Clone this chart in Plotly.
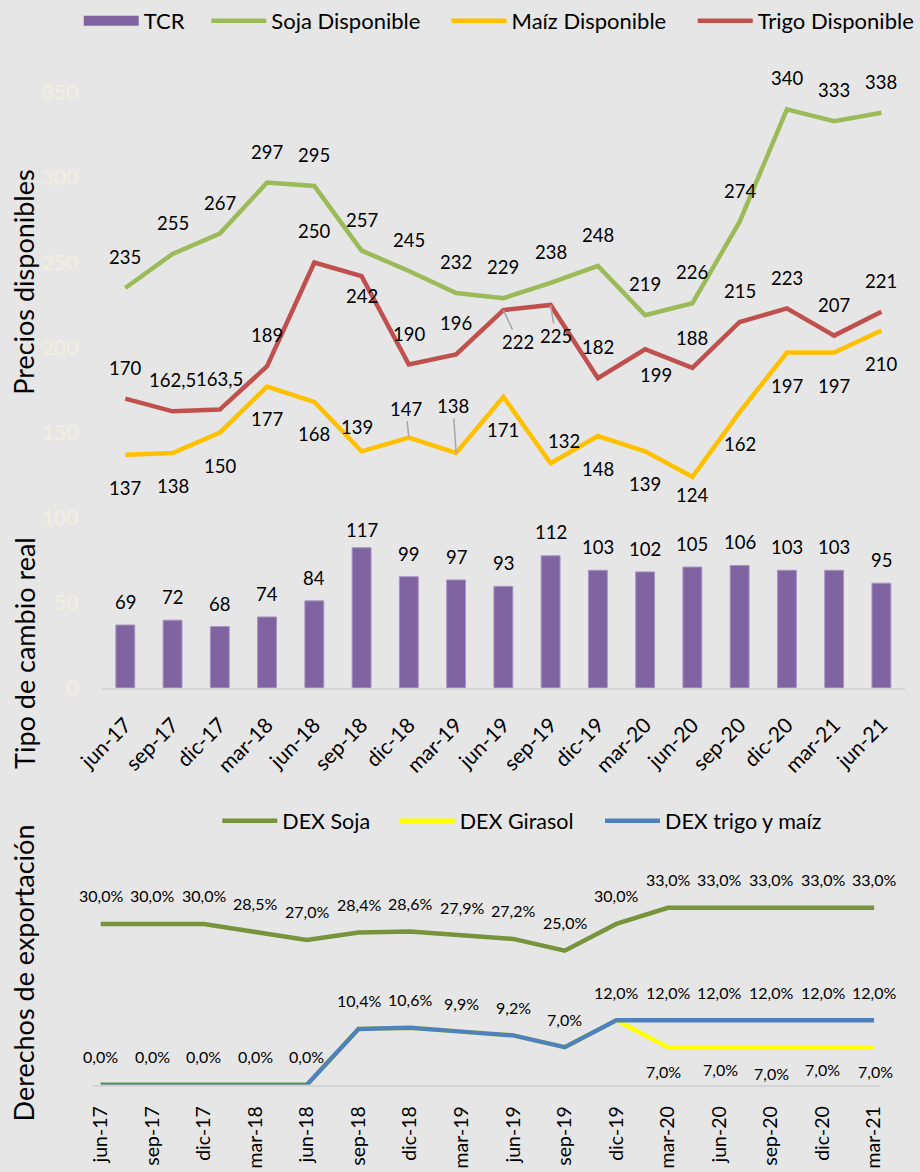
import plotly.graph_objects as go

# ---------------- data ----------------
cats = ['jun-17', 'sep-17', 'dic-17', 'mar-18', 'jun-18', 'sep-18', 'dic-18', 'mar-19', 'jun-19',
        'sep-19', 'dic-19', 'mar-20', 'jun-20', 'sep-20', 'dic-20', 'mar-21', 'jun-21']
tcr = [69, 72, 68, 74, 84, 117, 99, 97, 93, 112, 103, 102, 105, 106, 103, 103, 95]
soja = [235, 255, 267, 297, 295, 257, 245, 232, 229, 238, 248, 219, 226, 274, 340, 333, 338]
maiz = [137, 138, 150, 177, 168, 139, 147, 138, 171, 132, 148, 139, 124, 162, 197, 197, 210]
trigo = [170, 162.5, 163.5, 189, 250, 242, 190, 196, 222, 225, 182, 199, 188, 215, 223, 207, 221]

dex_cats = ['jun-17', 'sep-17', 'dic-17', 'mar-18', 'jun-18', 'sep-18', 'dic-18', 'mar-19',
            'jun-19', 'sep-19', 'dic-19', 'mar-20', 'jun-20', 'sep-20', 'dic-20', 'mar-21']
dex_soja = [30, 30, 30, 28.5, 27, 28.4, 28.6, 27.9, 27.2, 25, 30, 33, 33, 33, 33, 33]
dex_girasol = [0, 0, 0, 0, 0, 10.4, 10.6, 9.9, 9.2, 7, 12, 7, 7, 7, 7, 7]
dex_trigo_maiz = [0, 0, 0, 0, 0, 10.4, 10.6, 9.9, 9.2, 7, 12, 12, 12, 12, 12, 12]

# ---------------- label placement (styles) ----------------
soja_dy = [31] * 17
trigo_dy = [31, 31, 31, 31, 31, -20, 31, 31, -32, -31, 31, -26, 30, 31, 30, 31, 31]
trigo_dx = [0, 0, 0, 0, 0, 0, 0, 0, 15, 5, 0, 11, 0, 0, 0, 0, 0]
maiz_dy = [-33, -33, -33, -32, -32, 24, 29, 47, -33, 22, -33, -33, -18, -32, -33, -33, -33]
maiz_dx = [0, 0, 0, 0, 0, -5, -3, -3, 0, 13, 0, 0, 0, 0, 0, 0, 0]
leader = {('trigo', 8), ('trigo', 9), ('maiz', 6), ('maiz', 7)}
tcr_dy = [23, 23, 23, 23, 23, 18, 23, 23, 23, 24, 23, 23, 23, 23, 23, 23, 23]

FONT = 'Lato'
BG = '#e6e6e6'
C_TCR = '#8064a2'
C_SOJA = '#9bbb59'
C_MAIZ = '#ffc000'
C_TRIGO = '#c0504d'
C_DSOJA = '#77933c'
C_DGIR = '#ffff00'
C_DTM = '#4f81bd'

H = 1172.0
W = 920.0


def fmt(v):
    if float(v).is_integer():
        return str(int(v))
    return ('%g' % v).replace('.', ',')


def pct(v):
    return ('%.1f%%' % v).replace('.', ',')


fig = go.Figure()

fig.add_trace(go.Bar(x=cats, y=tcr, name='TCR', marker=dict(color=C_TCR, line=dict(color='#a694c4', width=1)),
                     yaxis='y2', xaxis='x', showlegend=False, width=0.4))
# legend swatch for the TCR bars (wide rectangle as in the original)
fig.add_trace(go.Scatter(x=[None], y=[None], name='TCR', mode='lines', line=dict(color=C_TCR, width=14),
                         xaxis='x', yaxis='y', legend='legend'))
fig.add_trace(go.Scatter(x=cats, y=soja, name='Soja Disponible', mode='lines',
                         line=dict(color=C_SOJA, width=4.5), xaxis='x', yaxis='y', legend='legend2'))
fig.add_trace(go.Scatter(x=cats, y=maiz, name='Maíz Disponible', mode='lines',
                         line=dict(color=C_MAIZ, width=4.5), xaxis='x', yaxis='y', legend='legend3'))
fig.add_trace(go.Scatter(x=cats, y=trigo, name='Trigo Disponible', mode='lines',
                         line=dict(color=C_TRIGO, width=4.5), xaxis='x', yaxis='y', legend='legend4'))

fig.add_trace(go.Scatter(x=dex_cats, y=dex_soja, name='DEX Soja', mode='lines',
                         line=dict(color=C_DSOJA, width=4.5), xaxis='x2', yaxis='y3', legend='legend5'))
fig.add_trace(go.Scatter(x=dex_cats, y=dex_girasol, name='DEX Girasol', mode='lines',
                         line=dict(color=C_DGIR, width=4.5), xaxis='x2', yaxis='y3', legend='legend6'))
fig.add_trace(go.Scatter(x=dex_cats, y=dex_trigo_maiz, name='DEX trigo y maíz', mode='lines',
                         line=dict(color=C_DTM, width=4.5), xaxis='x2', yaxis='y3', legend='legend7'))

ann = []
lab_font = dict(family=FONT, size=18.5, color='#000000')
for i, c in enumerate(cats):
    ann.append(dict(x=c, y=soja[i], xref='x', yref='y', text=fmt(soja[i]), showarrow=False,
                    yshift=soja_dy[i], font=lab_font))
    for key, arr, dy, dx in (('trigo', trigo, trigo_dy, trigo_dx), ('maiz', maiz, maiz_dy, maiz_dx)):
        if (key, i) in leader:
            ann.append(dict(x=c, y=arr[i], xref='x', yref='y', text=fmt(arr[i]), showarrow=True,
                            arrowhead=0, arrowwidth=1.5, arrowcolor='#a6a6a6', ax=dx[i], ay=-dy[i],
                            standoff=0, font=lab_font))
        else:
            ann.append(dict(x=c, y=arr[i], xref='x', yref='y', text=fmt(arr[i]), showarrow=False,
                            yshift=dy[i], xshift=dx[i], font=lab_font))
    ann.append(dict(x=c, y=tcr[i], xref='x', yref='y2', text=fmt(tcr[i]), showarrow=False,
                    yshift=tcr_dy[i], font=lab_font))

pfont = dict(family=FONT, size=16, color='#000000')
gir_dy = [-24, -22, -26, -22, -24]
gir_dx = [-4, 1, 0, 0, 1]
for i, c in enumerate(dex_cats):
    ann.append(dict(x=c, y=dex_soja[i], xref='x2', yref='y3', text=pct(dex_soja[i]), showarrow=False,
                    yshift=28, font=pfont))
    ann.append(dict(x=c, y=dex_trigo_maiz[i], xref='x2', yref='y3', text=pct(dex_trigo_maiz[i]),
                    showarrow=False, yshift=28, font=pfont))
    if i >= 11:
        ann.append(dict(x=c, y=dex_girasol[i], xref='x2', yref='y3', text=pct(dex_girasol[i]),
                        showarrow=False, yshift=gir_dy[i - 11], xshift=gir_dx[i - 11], font=pfont))

tfont = dict(family=FONT, size=27, color='#000000')
for txt, yc in (('Precios disponibles', 275), ('Tipo de cambio real', 649), ('Derechos de exportación', 971)):
    ann.append(dict(x=24 / W, y=1 - yc / H, xref='paper', yref='paper', text=txt, textangle=-90,
                    xanchor='center', yanchor='middle', showarrow=False, font=tfont))


def leg(xpx, ypx, size):
    return dict(orientation='h', x=xpx / W, xanchor='left', y=1 - ypx / H, yanchor='middle',
                font=dict(family=FONT, size=size, color='#000000'), bgcolor='rgba(0,0,0,0)',
                itemwidth=55)


fig.update_layout(
    width=920, height=1172,
    margin=dict(l=0, r=0, t=0, b=0),
    paper_bgcolor=BG, plot_bgcolor=BG,
    font=dict(family=FONT, color='#000000'),
    bargap=0.6,
    annotations=ann,
    xaxis=dict(domain=[102 / W, 908 / W], anchor='y', type='category', range=[-0.5, 16.5],
               showline=True, linecolor='#d4d4d4', linewidth=1.5, showgrid=False, zeroline=False,
               tickangle=-45, ticks='outside', ticklen=15, tickcolor='rgba(0,0,0,0)',
               tickfont=dict(family=FONT, size=21, color='#000000'), automargin=False),
    yaxis=dict(domain=[1 - 684 / H, 1 - 84 / H], anchor='x', range=[0, 350], dtick=50,
               showgrid=False, zeroline=False, showline=False, ticks='outside', ticklen=18,
               tickcolor='rgba(0,0,0,0)', tickfont=dict(family=FONT, size=21, color='#f2efdf'),
               automargin=False),
    yaxis2=dict(overlaying='y', anchor='x', range=[30, 400], visible=False, showgrid=False),
    xaxis2=dict(domain=[93 / W, 883 / W], anchor='y3', type='category', range=[-0.155, 15.116],
                showline=True, linecolor='#d4d4d4', linewidth=1.5, showgrid=False, zeroline=False,
                tickangle=-90, ticks='outside', ticklen=12, tickcolor='rgba(0,0,0,0)',
                tickfont=dict(family=FONT, size=19.5, color='#000000'), automargin=False),
    yaxis3=dict(domain=[1 - 1084 / H, 1 - 868 / H], anchor='x2', range=[0, 40], showgrid=False,
                zeroline=False, showticklabels=False, showline=False, automargin=False),
    legend=leg(79, 12, 22),
    legend2=leg(207, 12, 22),
    legend3=leg(448, 12, 22),
    legend4=leg(695, 12, 22),
    legend5=leg(218, 818, 21.5),
    legend6=leg(396, 818, 21.5),
    legend7=leg(602, 818, 21.5),
)

js = "document.body.style.margin='0px';document.body.style.background='%s';" % BG
fig.write_html('out.html', post_script=js, config={'displayModeBar': False})
